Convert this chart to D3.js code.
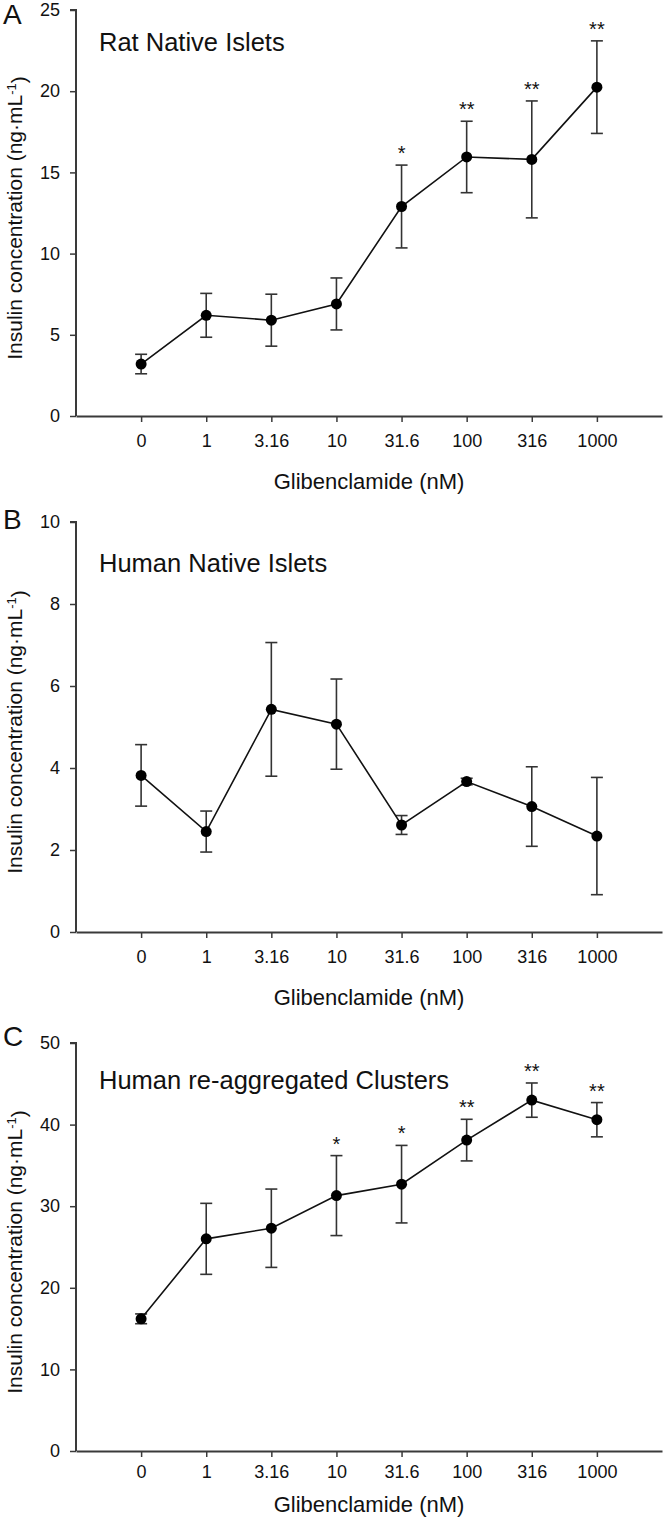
<!DOCTYPE html>
<html>
<head>
<meta charset="utf-8">
<script src="https://cdn.jsdelivr.net/npm/d3@7"></script>
<style>
  body { margin: 0; background: #fff; }
  svg { display: block; font-family: "Liberation Sans", Arial, sans-serif; }
  .tick text { fill: #111; }
</style>
</head>
<body>
<svg id="chart" width="670" height="1518"></svg>
<script>
// glibenclamide doses (nM), shown as categories
const doses = ['0', '1', '3.16', '10', '31.6', '100', '316', '1000'];

// A - rat native islets
const ratMean = [3.2, 6.2, 5.9, 6.9, 12.9, 15.95, 15.8, 20.25];
const ratSem = [0.6, 1.35, 1.6, 1.6, 2.55, 2.2, 3.6, 2.85];
const ratStars = ['', '', '', '', '*', '**', '**', '**'];
const ratTicks = [0, 5, 10, 15, 20, 25];

// B - human native islets
const humanMean = [3.82, 2.45, 5.43, 5.07, 2.61, 3.67, 3.06, 2.34];
const humanSem = [0.75, 0.5, 1.63, 1.1, 0.23, 0.08, 0.97, 1.43];
const humanStars = ['', '', '', '', '', '', '', ''];
const humanTicks = [0, 2, 4, 6, 8, 10];

// C - human re-aggregated clusters
const clusterMean = [16.2, 26.0, 27.3, 31.3, 32.7, 38.1, 43.0, 40.6];
const clusterSem = [0.6, 4.35, 4.8, 4.9, 4.75, 2.55, 2.1, 2.1];
const clusterStars = ['', '', '', '*', '*', '**', '**', '**'];
const clusterTicks = [0, 10, 20, 30, 40, 50];

const panels = [
    {letter: 'A', title: 'Rat Native Islets', mean: ratMean, sem: ratSem, stars: ratStars,
        ticks: ratTicks, top: 10, bottom: 416, titleY: 51, letterY: 24, tickDy: 28, xTitleDy: 65},
    {letter: 'B', title: 'Human Native Islets', mean: humanMean, sem: humanSem, stars: humanStars,
        ticks: humanTicks, top: 522, bottom: 932, titleY: 572, letterY: 529, tickDy: 28, xTitleDy: 65},
    {letter: 'C', title: 'Human re-aggregated Clusters', mean: clusterMean, sem: clusterSem, stars: clusterStars,
        ticks: clusterTicks, top: 1043, bottom: 1451, titleY: 1089, letterY: 1046, tickDy: 24, xTitleDy: 53}
];

const left = 76;
const right = 662;
const axisColor = '#3a3a3a';
const barColor = '#333';

const svg = d3.select('#chart');

// x positions: categories at 0..7, axis spans -1..8
const x = d3.scaleLinear().domain([-1, 8]).range([left, right]);

panels.forEach((p) => {
    const g = svg.append('g');
    const y = d3.scaleLinear()
        .domain([0, d3.max(p.ticks)])
        .range([p.bottom, p.top]);

    const values = doses.map((d, i) => ({
        dose: d,
        i,
        mean: p.mean[i],
        sem: p.sem[i],
        star: p.stars[i]
    }));

    // y axis
    const yAxis = g.append('g')
        .attr('transform', `translate(${left},0)`)
        .call(d3.axisLeft(y).tickValues(p.ticks).tickSize(6).tickPadding(10));
    yAxis.selectAll('text').style('font-size', '18px');

    // x axis with category labels
    const xAxis = g.append('g')
        .attr('transform', `translate(0,${p.bottom})`)
        .call(d3.axisBottom(x)
            .tickValues(d3.range(doses.length))
            .tickFormat(i => doses[i])
            .tickSize(6)
            .tickSizeOuter(0)
            .tickPadding(p.tickDy - 16));
    xAxis.selectAll('text').style('font-size', '18px');

    [yAxis, xAxis].forEach((ax) => {
        ax.select('.domain').attr('stroke', axisColor).attr('stroke-width', 2);
        ax.selectAll('.tick line').attr('stroke', axisColor).attr('stroke-width', 1.5);
    });
    yAxis.select('.domain').attr('d', `M-6,${p.top}H0V${p.bottom}`);

    // axis titles
    g.append('text')
        .attr('x', (left + right) / 2)
        .attr('y', p.bottom + p.xTitleDy)
        .attr('dy', '0.35em')
        .attr('text-anchor', 'middle')
        .style('font-size', '22px')
        .attr('fill', '#111')
        .text('Glibenclamide (nM)');

    const yTitle = g.append('text')
        .attr('transform', `translate(22,${(p.top + p.bottom) / 2 + 5}) rotate(-90)`)
        .attr('text-anchor', 'middle')
        .style('font-size', '21px')
        .attr('fill', '#111');
    yTitle.append('tspan').text('Insulin concentration (ng·mL');
    yTitle.append('tspan').attr('dy', '-0.5em').style('font-size', '13px').text('-1');
    yTitle.append('tspan').attr('dy', '0.5em').text(')');

    // panel letter + title
    g.append('text')
        .attr('x', 3)
        .attr('y', p.letterY)
        .style('font-size', '28px')
        .attr('fill', '#111')
        .text(p.letter);

    g.append('text')
        .attr('x', 99)
        .attr('y', p.titleY)
        .style('font-size', '25.5px')
        .attr('fill', '#111')
        .text(p.title);

    // error bars
    const bars = g.append('g').selectAll('g')
        .data(values)
        .enter()
        .append('g')
        .attr('stroke', barColor)
        .attr('stroke-width', 1.6);
    bars.append('line')
        .attr('x1', d => x(d.i))
        .attr('x2', d => x(d.i))
        .attr('y1', d => y(d.mean - d.sem))
        .attr('y2', d => y(d.mean + d.sem));
    bars.append('line')
        .attr('x1', d => x(d.i) - 6)
        .attr('x2', d => x(d.i) + 6)
        .attr('y1', d => y(d.mean + d.sem))
        .attr('y2', d => y(d.mean + d.sem));
    bars.append('line')
        .attr('x1', d => x(d.i) - 6)
        .attr('x2', d => x(d.i) + 6)
        .attr('y1', d => y(d.mean - d.sem))
        .attr('y2', d => y(d.mean - d.sem));

    // connecting line
    g.append('path')
        .datum(values)
        .attr('fill', 'none')
        .attr('stroke', '#111')
        .attr('stroke-width', 1.6)
        .attr('d', d3.line().x(d => x(d.i)).y(d => y(d.mean)));

    // markers
    g.append('g').selectAll('circle')
        .data(values)
        .enter()
        .append('circle')
        .attr('cx', d => x(d.i))
        .attr('cy', d => y(d.mean))
        .attr('r', 5.5)
        .attr('fill', '#000');

    // significance stars
    g.append('g').selectAll('text')
        .data(values.filter(d => d.star))
        .enter()
        .append('text')
        .attr('x', d => x(d.i))
        .attr('y', d => y(d.mean + d.sem) - 5)
        .attr('text-anchor', 'middle')
        .style('font-size', '20px')
        .attr('fill', '#111')
        .text(d => d.star);
});
</script>
</body>
</html>
